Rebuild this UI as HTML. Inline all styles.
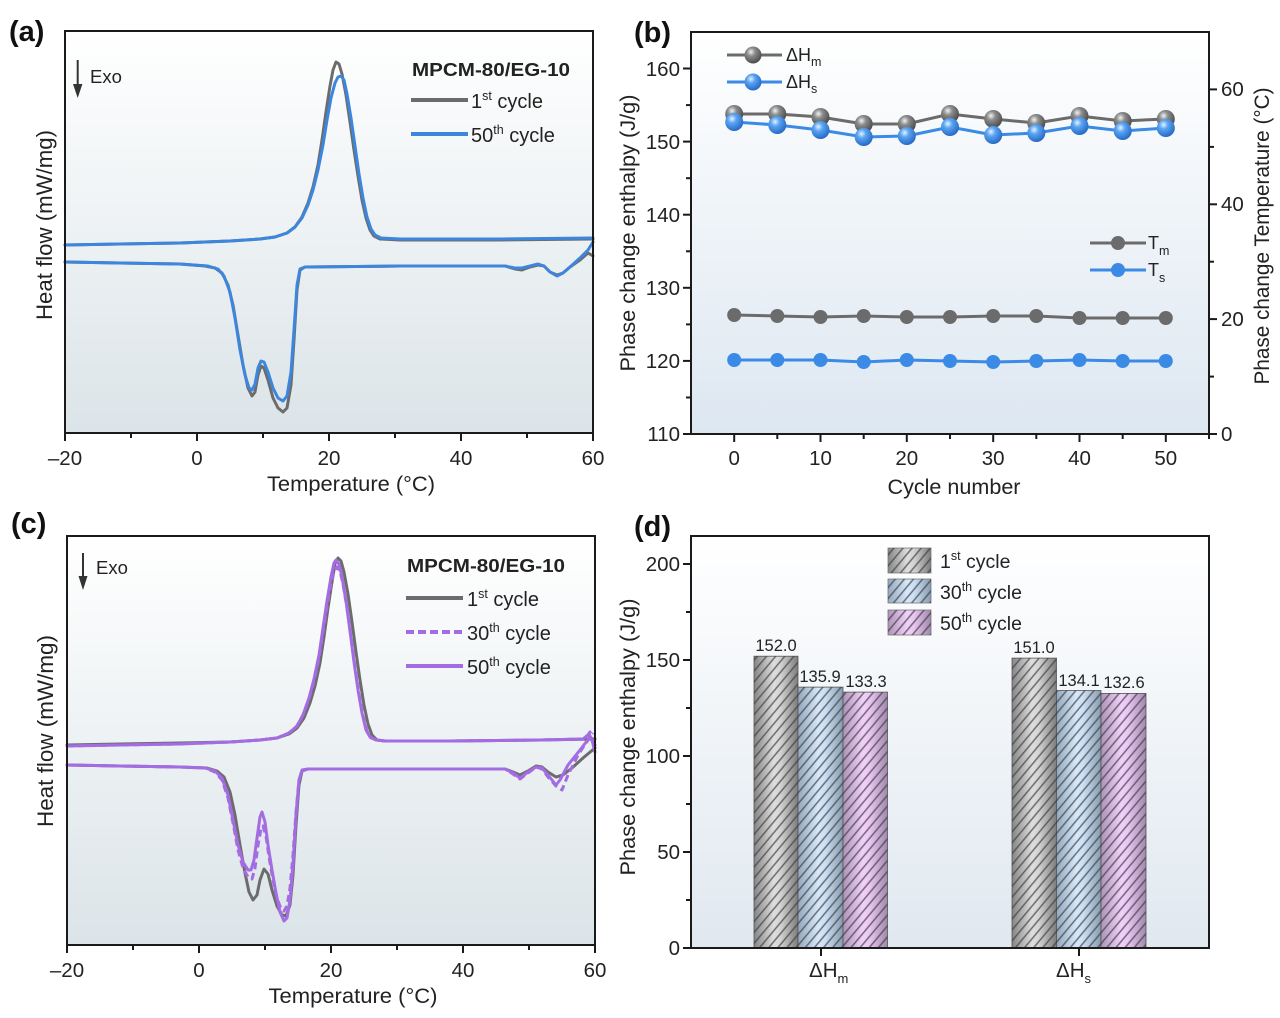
<!DOCTYPE html>
<html><head><meta charset="utf-8"><style>
html,body{margin:0;padding:0;background:#fff;}
svg{display:block;font-family:"Liberation Sans",sans-serif;}
</style></head><body>
<svg width="1280" height="1018" viewBox="0 0 1280 1018" xmlns="http://www.w3.org/2000/svg">
<defs>
<linearGradient id="bgA" x1="0" y1="0" x2="0" y2="1"><stop offset="0" stop-color="#ffffff"/><stop offset="1" stop-color="#dbe4e8"/></linearGradient>
<linearGradient id="bgB" x1="0" y1="0" x2="0" y2="1"><stop offset="0" stop-color="#ffffff"/><stop offset="1" stop-color="#dde7f1"/></linearGradient>
<linearGradient id="bgD" x1="0" y1="0" x2="0" y2="1"><stop offset="0" stop-color="#ffffff"/><stop offset="1" stop-color="#e0e8f0"/></linearGradient>
<radialGradient id="sg" cx="0.38" cy="0.32" r="0.7"><stop offset="0" stop-color="#f2f2f2"/><stop offset="0.35" stop-color="#8c8c8c"/><stop offset="1" stop-color="#4a4a4a"/></radialGradient>
<radialGradient id="sb" cx="0.38" cy="0.32" r="0.7"><stop offset="0" stop-color="#e6f3ff"/><stop offset="0.35" stop-color="#5aa4f2"/><stop offset="1" stop-color="#2568c4"/></radialGradient>
<linearGradient id="barG" x1="0" y1="0" x2="1" y2="0"><stop offset="0" stop-color="#858585"/><stop offset="0.45" stop-color="#dedede"/><stop offset="0.6" stop-color="#d4d4d4"/><stop offset="1" stop-color="#7c7c7c"/></linearGradient>
<linearGradient id="barB" x1="0" y1="0" x2="1" y2="0"><stop offset="0" stop-color="#93a8be"/><stop offset="0.45" stop-color="#d6e8fa"/><stop offset="0.6" stop-color="#cce0f4"/><stop offset="1" stop-color="#879cb2"/></linearGradient>
<linearGradient id="barP" x1="0" y1="0" x2="1" y2="0"><stop offset="0" stop-color="#ad92b9"/><stop offset="0.45" stop-color="#f1d1fa"/><stop offset="0.6" stop-color="#e9c6f3"/><stop offset="1" stop-color="#a188ad"/></linearGradient>
<pattern id="hatch" width="7" height="7" patternUnits="userSpaceOnUse" patternTransform="rotate(40)"><line x1="1" y1="0" x2="1" y2="7" stroke="#3a3a3a" stroke-width="1.5" stroke-opacity="0.7"/></pattern>
</defs>

<!-- ============ (a) ============ -->
<text x="9" y="41" font-size="29" font-weight="bold" fill="#111">(a)</text>
<rect x="65" y="31" width="528" height="402" fill="url(#bgA)"/>
<g fill="none" stroke-linejoin="round" stroke-linecap="round" stroke-width="3">
<polyline stroke="#6c6c6c" points="65,245 120,244 180,243 230,241 260,239 275,237 287,233 295,227 302,217 308,203 313,187 318,165 322,140 326,112 330,86 333,70 336,62 339,64 342,74 346,95 350,122 354,150 358,176 362,200 366,218 370,230 374,236 380,239 400,240 500,240 593,239"/>
<polyline stroke="#6c6c6c" points="65,262 120,263 180,264 205,266 215,268 222,273 228,285 233,305 238,335 243,365 248,388 252,396 255,392 258,375 261,366 264,368 268,380 273,398 278,408 283,412 287,408 291,385 294,340 297,290 300,270 305,267 400,266 505,266 515,269 522,270 530,267 538,265 544,266 550,272 557,275 563,273 570,267 580,260 588,253 593,256"/>
<polyline stroke="#3d86dd" points="65,245 120,244 180,243 230,241 260,239 275,237 287,233 295,227 302,218 308,205 313,190 318,170 323,145 327,120 331,98 335,83 338,77 341,76 344,80 347,94 351,118 355,146 359,174 363,198 367,217 371,229 375,235 381,238 400,239 500,239 593,238"/>
<polyline stroke="#3d86dd" points="65,262 120,263 180,264 208,266 218,269 224,276 230,292 235,318 240,350 245,375 249,388 252,390 255,384 258,368 261,361 264,362 268,372 273,388 278,398 283,401 287,396 291,372 294,330 297,285 300,269 305,267 400,266 505,266 515,268 522,268 530,266 538,264 544,266 550,272 557,276 563,273 570,267 580,258 588,250 593,242"/>
</g>
<rect x="65" y="31" width="528" height="402" fill="none" stroke="#1a1a1a" stroke-width="2"/>
<g stroke="#1a1a1a" stroke-width="2">
<line x1="65" y1="433" x2="65" y2="441"/><line x1="197" y1="433" x2="197" y2="441"/><line x1="329" y1="433" x2="329" y2="441"/><line x1="461" y1="433" x2="461" y2="441"/><line x1="593" y1="433" x2="593" y2="441"/>
<line x1="131" y1="433" x2="131" y2="438"/><line x1="263" y1="433" x2="263" y2="438"/><line x1="395" y1="433" x2="395" y2="438"/><line x1="527" y1="433" x2="527" y2="438"/>
</g>
<g font-size="20.5" fill="#222" text-anchor="middle">
<text x="65" y="465">–20</text><text x="197" y="465">0</text><text x="329" y="465">20</text><text x="461" y="465">40</text><text x="593" y="465">60</text>
<text x="351" y="491" font-size="21" textLength="168" lengthAdjust="spacingAndGlyphs">Temperature (°C)</text>
<text transform="translate(52,225) rotate(-90)" font-size="22" textLength="190" lengthAdjust="spacingAndGlyphs">Heat flow (mW/mg)</text>
</g>
<line x1="77.7" y1="60" x2="77.7" y2="86" stroke="#333" stroke-width="2"/>
<polygon points="73,84 82.4,84 77.7,98" fill="#333"/>
<text x="90" y="83" font-size="18.5" fill="#222">Exo</text>
<text x="412" y="76" font-size="18.5" font-weight="bold" fill="#222" textLength="158" lengthAdjust="spacingAndGlyphs">MPCM-80/EG-10</text>
<line x1="411" y1="100" x2="468" y2="100" stroke="#6c6c6c" stroke-width="4"/>
<line x1="411" y1="134" x2="468" y2="134" stroke="#3d86dd" stroke-width="4"/>
<g font-size="20" fill="#222">
<text x="471" y="108">1<tspan font-size="12.5" dy="-8">st</tspan><tspan dy="8"> cycle</tspan></text>
<text x="471" y="142">50<tspan font-size="12.5" dy="-8">th</tspan><tspan dy="8"> cycle</tspan></text>
</g>

<!-- ============ (b) ============ -->
<text x="634" y="42" font-size="29" font-weight="bold" fill="#111">(b)</text>
<rect x="691" y="32" width="518" height="402" fill="url(#bgB)"/>
<polyline fill="none" stroke="#6b6b6b" stroke-width="3" points="734.2,315 777.3,316 820.5,317 863.7,316 906.8,317 950,317 993.2,316 1036.3,316 1079.5,318 1122.7,318 1165.8,318"/>
<g fill="#6b6b6b">
<circle cx="734.2" cy="315" r="7"/><circle cx="777.3" cy="316" r="7"/><circle cx="820.5" cy="317" r="7"/><circle cx="863.7" cy="316" r="7"/><circle cx="906.8" cy="317" r="7"/><circle cx="950" cy="317" r="7"/><circle cx="993.2" cy="316" r="7"/><circle cx="1036.3" cy="316" r="7"/><circle cx="1079.5" cy="318" r="7"/><circle cx="1122.7" cy="318" r="7"/><circle cx="1165.8" cy="318" r="7"/>
</g>
<polyline fill="none" stroke="#3a8ae6" stroke-width="3" points="734.2,360 777.3,360 820.5,360 863.7,362 906.8,360 950,361 993.2,362 1036.3,361 1079.5,360 1122.7,361 1165.8,361"/>
<g fill="#3a8ae6">
<circle cx="734.2" cy="360" r="7"/><circle cx="777.3" cy="360" r="7"/><circle cx="820.5" cy="360" r="7"/><circle cx="863.7" cy="362" r="7"/><circle cx="906.8" cy="360" r="7"/><circle cx="950" cy="361" r="7"/><circle cx="993.2" cy="362" r="7"/><circle cx="1036.3" cy="361" r="7"/><circle cx="1079.5" cy="360" r="7"/><circle cx="1122.7" cy="361" r="7"/><circle cx="1165.8" cy="361" r="7"/>
</g>
<polyline fill="none" stroke="#6b6b6b" stroke-width="3" points="734.2,114 777.3,114 820.5,117 863.7,124 906.8,124 950,114 993.2,119 1036.3,123 1079.5,116 1122.7,121 1165.8,119"/>
<g fill="url(#sg)">
<circle cx="734.2" cy="114" r="9"/><circle cx="777.3" cy="114" r="9"/><circle cx="820.5" cy="117" r="9"/><circle cx="863.7" cy="124" r="9"/><circle cx="906.8" cy="124" r="9"/><circle cx="950" cy="114" r="9"/><circle cx="993.2" cy="119" r="9"/><circle cx="1036.3" cy="123" r="9"/><circle cx="1079.5" cy="116" r="9"/><circle cx="1122.7" cy="121" r="9"/><circle cx="1165.8" cy="119" r="9"/>
</g>
<polyline fill="none" stroke="#3a8ae6" stroke-width="3" points="734.2,122 777.3,125 820.5,130 863.7,137 906.8,136 950,127 993.2,135 1036.3,133 1079.5,126 1122.7,131 1165.8,128"/>
<g fill="url(#sb)">
<circle cx="734.2" cy="122" r="9"/><circle cx="777.3" cy="125" r="9"/><circle cx="820.5" cy="130" r="9"/><circle cx="863.7" cy="137" r="9"/><circle cx="906.8" cy="136" r="9"/><circle cx="950" cy="127" r="9"/><circle cx="993.2" cy="135" r="9"/><circle cx="1036.3" cy="133" r="9"/><circle cx="1079.5" cy="126" r="9"/><circle cx="1122.7" cy="131" r="9"/><circle cx="1165.8" cy="128" r="9"/>
</g>
<rect x="691" y="32" width="518" height="402" fill="none" stroke="#1a1a1a" stroke-width="2"/>
<g stroke="#1a1a1a" stroke-width="2">
<line x1="734.2" y1="434" x2="734.2" y2="442"/><line x1="820.5" y1="434" x2="820.5" y2="442"/><line x1="906.8" y1="434" x2="906.8" y2="442"/><line x1="993.2" y1="434" x2="993.2" y2="442"/><line x1="1079.5" y1="434" x2="1079.5" y2="442"/><line x1="1165.8" y1="434" x2="1165.8" y2="442"/>
<line x1="777.3" y1="434" x2="777.3" y2="439"/><line x1="863.7" y1="434" x2="863.7" y2="439"/><line x1="950" y1="434" x2="950" y2="439"/><line x1="1036.3" y1="434" x2="1036.3" y2="439"/><line x1="1122.7" y1="434" x2="1122.7" y2="439"/><line x1="1209" y1="434" x2="1209" y2="439"/>
<line x1="683" y1="434" x2="691" y2="434"/><line x1="683" y1="360.9" x2="691" y2="360.9"/><line x1="683" y1="287.8" x2="691" y2="287.8"/><line x1="683" y1="214.7" x2="691" y2="214.7"/><line x1="683" y1="141.6" x2="691" y2="141.6"/><line x1="683" y1="68.5" x2="691" y2="68.5"/>
<line x1="686" y1="397.5" x2="691" y2="397.5"/><line x1="686" y1="324.4" x2="691" y2="324.4"/><line x1="686" y1="251.3" x2="691" y2="251.3"/><line x1="686" y1="178.2" x2="691" y2="178.2"/><line x1="686" y1="105.1" x2="691" y2="105.1"/>
<line x1="1209" y1="434" x2="1217" y2="434"/><line x1="1209" y1="319.1" x2="1217" y2="319.1"/><line x1="1209" y1="204.3" x2="1217" y2="204.3"/><line x1="1209" y1="89.4" x2="1217" y2="89.4"/>
<line x1="1209" y1="376.6" x2="1214" y2="376.6"/><line x1="1209" y1="261.7" x2="1214" y2="261.7"/><line x1="1209" y1="146.9" x2="1214" y2="146.9"/>
</g>
<g font-size="20.5" fill="#222">
<g text-anchor="middle">
<text x="734.2" y="465">0</text><text x="820.5" y="465">10</text><text x="906.8" y="465">20</text><text x="993.2" y="465">30</text><text x="1079.5" y="465">40</text><text x="1165.8" y="465">50</text>
<text x="954" y="494" font-size="21" textLength="133" lengthAdjust="spacingAndGlyphs">Cycle number</text>
<text transform="translate(635,233) rotate(-90)" font-size="21" textLength="277" lengthAdjust="spacingAndGlyphs">Phase change enthalpy (J/g)</text>
<text transform="translate(1269,236) rotate(-90)" font-size="21" textLength="297" lengthAdjust="spacingAndGlyphs">Phase change Temperature (°C)</text>
</g>
<g text-anchor="end">
<text x="680" y="441">110</text><text x="680" y="368">120</text><text x="680" y="295">130</text><text x="680" y="222">140</text><text x="680" y="149">150</text><text x="680" y="76">160</text>
</g>
<text x="1221" y="441">0</text><text x="1221" y="326">20</text><text x="1221" y="211">40</text><text x="1221" y="96">60</text>
</g>
<line x1="727" y1="55" x2="782" y2="55" stroke="#6b6b6b" stroke-width="3"/>
<circle cx="753" cy="55" r="8.5" fill="url(#sg)"/>
<line x1="727" y1="82" x2="782" y2="82" stroke="#3a8ae6" stroke-width="3"/>
<circle cx="753" cy="82" r="8.5" fill="url(#sb)"/>
<g font-size="18" fill="#222">
<text x="786" y="61">ΔH<tspan font-size="12.5" dy="5">m</tspan></text>
<text x="786" y="88">ΔH<tspan font-size="12.5" dy="5">s</tspan></text>
</g>
<line x1="1090" y1="243" x2="1146" y2="243" stroke="#6b6b6b" stroke-width="3"/>
<circle cx="1118" cy="243" r="7" fill="#6b6b6b"/>
<line x1="1090" y1="270" x2="1146" y2="270" stroke="#3a8ae6" stroke-width="3"/>
<circle cx="1118" cy="270" r="7" fill="#3a8ae6"/>
<g font-size="18" fill="#222">
<text x="1148" y="249">T<tspan font-size="12.5" dy="6">m</tspan></text>
<text x="1148" y="276">T<tspan font-size="12.5" dy="6">s</tspan></text>
</g>

<!-- ============ (c) ============ -->
<text x="11" y="533" font-size="29" font-weight="bold" fill="#111">(c)</text>
<rect x="67" y="536" width="528" height="409" fill="url(#bgA)"/>
<g fill="none" stroke-linejoin="round" stroke-linecap="round" stroke-width="3">
<polyline stroke="#6c6c6c" points="67,745 120,744 180,743 230,742 260,740 277,738 289,734 297,728 304,718 310,703 315,686 320,663 324,637 328,608 332,582 335,564 338,558 341,561 344,572 348,594 352,622 356,652 360,680 364,705 368,724 372,735 377,740 385,741 450,741 540,740 595,739"/>
<polyline stroke="#6c6c6c" points="67,765 120,766 180,767 207,768 217,771 224,777 230,792 235,815 240,845 245,873 249,892 253,900 257,895 260,880 264,869 268,874 272,890 277,906 282,915 286,916 290,905 293,875 296,825 299,785 302,771 308,769 400,769 505,769 513,772 520,775 528,771 536,766 542,767 548,772 556,777 563,775 572,768 583,758 595,748"/>
<polyline stroke="#a46ce2" stroke-dasharray="7,4" stroke-linecap="butt" points="67,746 120,745 180,744 230,742 260,740 277,738 289,733 297,726 303,715 309,699 314,681 319,658 323,632 327,606 331,584 334,571 337,567 340,571 343,584 347,608 351,637 355,667 359,694 363,716 367,731 371,738 377,740 385,741 450,741 540,740 585,739 590,732 594,745"/>
<polyline stroke="#a46ce2" stroke-dasharray="7,4" stroke-linecap="butt" points="67,765 120,766 180,767 205,768 215,772 222,780 228,798 233,823 238,850 243,868 248,877 252,879 255,868 258,845 261,829 263,826 266,836 269,857 273,880 277,898 281,909 284,911 287,906 290,888 293,855 296,812 299,780 302,771 308,769 400,769 505,769 513,774 520,779 528,773 536,767 542,769 548,777 556,786 562,790 568,775 578,755 588,740 593,733"/>
<polyline stroke="#a46ce2" points="67,746 120,745 180,744 230,742 260,740 277,738 289,733 297,726 303,715 309,698 314,679 319,655 323,628 327,601 331,577 334,563 336,560 339,564 342,577 346,601 350,631 354,662 358,690 362,713 366,730 370,737 376,740 385,741 450,741 540,740 583,739 589,734 592,740 595,752"/>
<polyline stroke="#a46ce2" points="67,765 120,766 180,767 205,768 215,771 222,778 228,795 233,820 238,845 243,862 248,870 251,870 254,860 257,838 260,817 262,812 265,822 268,845 272,870 276,893 280,912 284,921 287,918 290,900 293,865 296,815 299,780 302,770 308,769 400,769 505,769 513,773 520,778 528,772 536,767 542,768 548,775 556,785 560,780 568,765 580,750 590,737 595,745"/>
</g>
<rect x="67" y="536" width="528" height="409" fill="none" stroke="#1a1a1a" stroke-width="2"/>
<g stroke="#1a1a1a" stroke-width="2">
<line x1="67" y1="945" x2="67" y2="953"/><line x1="199" y1="945" x2="199" y2="953"/><line x1="331" y1="945" x2="331" y2="953"/><line x1="463" y1="945" x2="463" y2="953"/><line x1="595" y1="945" x2="595" y2="953"/>
<line x1="133" y1="945" x2="133" y2="950"/><line x1="265" y1="945" x2="265" y2="950"/><line x1="397" y1="945" x2="397" y2="950"/><line x1="529" y1="945" x2="529" y2="950"/>
</g>
<g font-size="20.5" fill="#222" text-anchor="middle">
<text x="67" y="977">–20</text><text x="199" y="977">0</text><text x="331" y="977">20</text><text x="463" y="977">40</text><text x="595" y="977">60</text>
<text x="353" y="1003" font-size="21" textLength="169" lengthAdjust="spacingAndGlyphs">Temperature (°C)</text>
<text transform="translate(53,731) rotate(-90)" font-size="22" textLength="192" lengthAdjust="spacingAndGlyphs">Heat flow (mW/mg)</text>
</g>
<line x1="83" y1="553" x2="83" y2="578" stroke="#333" stroke-width="2"/>
<polygon points="78.5,576 87.5,576 83,590" fill="#333"/>
<text x="96" y="574" font-size="18.5" fill="#222">Exo</text>
<text x="407" y="572" font-size="18.5" font-weight="bold" fill="#222" textLength="158" lengthAdjust="spacingAndGlyphs">MPCM-80/EG-10</text>
<line x1="406" y1="598" x2="463" y2="598" stroke="#6c6c6c" stroke-width="4"/>
<line x1="406" y1="632" x2="463" y2="632" stroke="#a46ce2" stroke-width="4" stroke-dasharray="8,4"/>
<line x1="406" y1="666" x2="463" y2="666" stroke="#a46ce2" stroke-width="4"/>
<g font-size="20" fill="#222">
<text x="467" y="606">1<tspan font-size="12.5" dy="-8">st</tspan><tspan dy="8"> cycle</tspan></text>
<text x="467" y="640">30<tspan font-size="12.5" dy="-8">th</tspan><tspan dy="8"> cycle</tspan></text>
<text x="467" y="674">50<tspan font-size="12.5" dy="-8">th</tspan><tspan dy="8"> cycle</tspan></text>
</g>

<!-- ============ (d) ============ -->
<text x="634" y="536" font-size="29" font-weight="bold" fill="#111">(d)</text>
<rect x="691" y="536" width="518" height="412" fill="url(#bgD)"/>
<g stroke="#555" stroke-width="0.8">
<rect x="754" y="656.2" width="44" height="291.8" fill="url(#barG)"/>
<rect x="798" y="687.1" width="45" height="260.9" fill="url(#barB)"/>
<rect x="843" y="692.1" width="44.5" height="255.9" fill="url(#barP)"/>
<rect x="1012" y="658.1" width="44.5" height="289.9" fill="url(#barG)"/>
<rect x="1056.5" y="690.5" width="44.5" height="257.5" fill="url(#barB)"/>
<rect x="1101" y="693.4" width="45" height="254.6" fill="url(#barP)"/>
</g>
<g fill="url(#hatch)">
<rect x="754" y="656.2" width="44" height="291.8"/>
<rect x="798" y="687.1" width="45" height="260.9"/>
<rect x="843" y="692.1" width="44.5" height="255.9"/>
<rect x="1012" y="658.1" width="44.5" height="289.9"/>
<rect x="1056.5" y="690.5" width="44.5" height="257.5"/>
<rect x="1101" y="693.4" width="45" height="254.6"/>
</g>
<g font-size="16.5" fill="#222" text-anchor="middle">
<text x="776" y="651">152.0</text><text x="820" y="682">135.9</text><text x="866" y="687">133.3</text>
<text x="1034" y="653">151.0</text><text x="1079" y="686">134.1</text><text x="1124" y="688">132.6</text>
</g>
<g stroke="#777" stroke-width="0.8">
<rect x="888" y="548" width="43" height="25" fill="url(#barG)"/>
<rect x="888" y="579" width="43" height="24" fill="url(#barB)"/>
<rect x="888" y="610" width="43" height="25" fill="url(#barP)"/>
</g>
<g fill="url(#hatch)">
<rect x="888" y="548" width="43" height="25"/>
<rect x="888" y="579" width="43" height="24"/>
<rect x="888" y="610" width="43" height="25"/>
</g>
<g font-size="19.5" fill="#222">
<text x="940" y="568">1<tspan font-size="12.5" dy="-8">st</tspan><tspan dy="8"> cycle</tspan></text>
<text x="940" y="599">30<tspan font-size="12.5" dy="-8">th</tspan><tspan dy="8"> cycle</tspan></text>
<text x="940" y="630">50<tspan font-size="12.5" dy="-8">th</tspan><tspan dy="8"> cycle</tspan></text>
</g>
<rect x="691" y="536" width="518" height="412" fill="none" stroke="#1a1a1a" stroke-width="2"/>
<g stroke="#1a1a1a" stroke-width="2">
<line x1="683" y1="948" x2="691" y2="948"/><line x1="683" y1="852" x2="691" y2="852"/><line x1="683" y1="756" x2="691" y2="756"/><line x1="683" y1="660" x2="691" y2="660"/><line x1="683" y1="564" x2="691" y2="564"/>
<line x1="686" y1="900" x2="691" y2="900"/><line x1="686" y1="804" x2="691" y2="804"/><line x1="686" y1="708" x2="691" y2="708"/><line x1="686" y1="612" x2="691" y2="612"/>
<line x1="821" y1="948" x2="821" y2="956"/><line x1="1079" y1="948" x2="1079" y2="956"/>
</g>
<g font-size="20.5" fill="#222">
<g text-anchor="end">
<text x="680" y="955">0</text><text x="680" y="859">50</text><text x="680" y="763">100</text><text x="680" y="667">150</text><text x="680" y="571">200</text>
</g>
<text x="809" y="977">ΔH<tspan font-size="13" dy="6">m</tspan></text>
<text x="1056" y="977">ΔH<tspan font-size="13" dy="6">s</tspan></text>
<text transform="translate(635,737) rotate(-90)" font-size="21" text-anchor="middle" textLength="277" lengthAdjust="spacingAndGlyphs">Phase change enthalpy (J/g)</text>
</g>
</svg>
</body></html>
